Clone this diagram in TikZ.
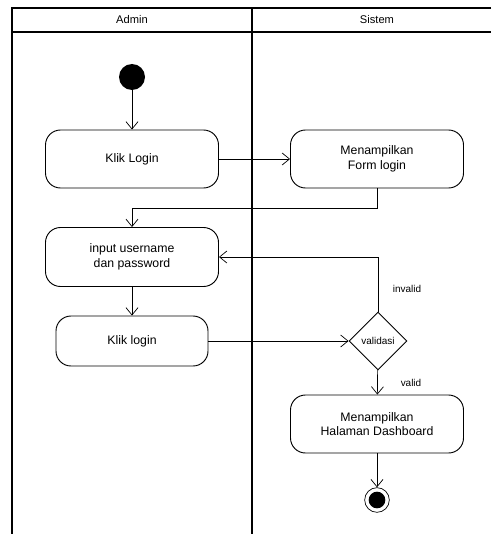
\documentclass[tikz,border=0pt]{standalone}
\usepackage{fontspec}
\setmainfont{Liberation Sans}
\usetikzlibrary{shapes.geometric,arrows.meta}

\tikzset{
  lane/.style={line width=1.3pt},
  activity/.style={draw, rounded corners=0.45cm, line width=0.8pt, align=center,
    font=\fontsize{10.5}{12.5}\selectfont, inner sep=2pt},
  decision/.style={draw, diamond, line width=0.8pt, aspect=1, inner sep=0pt,
    minimum width=1.74cm, minimum height=1.74cm, font=\fontsize{8.5}{10}\selectfont},
  flow/.style={line width=0.6pt, -{Straight Barb[length=0.22cm,width=0.36cm]}},
  guard/.style={font=\fontsize{8.5}{10}\selectfont},
  startnode/.style={circle, fill=black, minimum size=0.78cm, inner sep=0pt},
  endnode/.style={circle, draw, line width=0.6pt, minimum size=0.74cm, inner sep=0pt,
    path picture={\fill (path picture bounding box.center) circle (0.25cm);}}
}

\begin{document}
\begin{tikzpicture}[x=0.03cm, y=-0.03cm]
  \useasboundingbox (0,0) rectangle (491,534);
  % swimlanes
  \draw[lane] (491,8) -- (12,8) -- (12,534);
  \draw[lane] (12,32) -- (491,32);
  \draw[lane] (252,8) -- (252,534);
  \node[font=\fontsize{9.5}{11}\selectfont] (admin) at (132,20) {Admin};
  \node[font=\fontsize{9.5}{11}\selectfont] (sistem) at (377,20) {Sistem};

  % activities
  \node[startnode] (start) at (132,77) {};
  \node[activity, minimum width=5.19cm, minimum height=1.74cm] (kliklogin) at (132,159) {Klik Login};
  \node[activity, minimum width=5.19cm, minimum height=1.74cm] (formlogin) at (377,159) {Menampilkan\\Form login};
  \node[activity, minimum width=5.19cm, minimum height=1.77cm] (input) at (132,257) {input username\\dan password};
  \node[activity, minimum width=4.56cm, minimum height=1.5cm] (kliklogin2) at (132,341) {Klik login};
  \node[decision] (validasi) at (378,341) {validasi};
  \node[activity, minimum width=5.19cm, minimum height=1.74cm] (dashboard) at (377,424) {Menampilkan\\Halaman Dashboard};
  \node[endnode] (end) at (377,500) {};

  % flows
  \draw[flow] (start) -- (kliklogin);
  \draw[flow] (kliklogin) -- (formlogin);
  \draw[flow] (formlogin.south) -- ++(0,20) -| (input.north);
  \draw[flow] (input) -- (kliklogin2);
  \draw[flow] (kliklogin2) -- (validasi);
  \draw[flow] (validasi.north) |- (input.east);
  \draw[flow] (validasi) -- (dashboard);
  \draw[flow] (dashboard) -- (end);

  \node[guard] (invalid) at (407,289) {invalid};
  \node[guard] (valid) at (411,383) {valid};
\end{tikzpicture}
\end{document}
